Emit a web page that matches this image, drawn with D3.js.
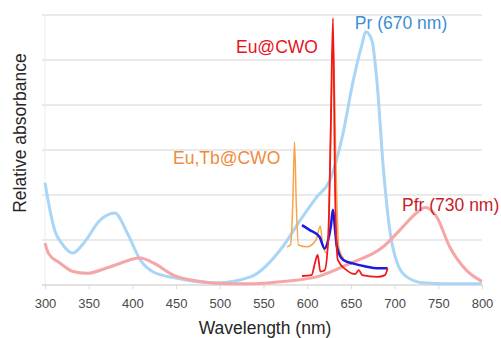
<!DOCTYPE html>
<html>
<head>
<meta charset="utf-8">
<script src="https://cdn.jsdelivr.net/npm/d3@7"></script>
<style>
  body { margin: 0; background: #fff; }
  svg { display: block; font-family: "Liberation Sans", Arial, sans-serif; }
</style>
</head>
<body>
<div id="chart"></div>
<script>
// x ticks
var xTicks = [300, 350, 400, 450, 500, 550, 600, 650, 700, 750, 800]

// Pr (phytochrome red form) absorbance
var prWl  = [300, 305, 311, 319, 332, 345, 363, 380, 394, 409, 424, 451, 497, 535, 572, 592, 611, 626, 641, 652, 663, 667, 674, 680, 687, 695, 703, 714, 732, 760, 800]
var prVal = [2.27, 1.73, 1.22, 0.93, 0.71, 0.95, 1.44, 1.6, 1.16, 0.56, 0.29, 0.15, 0.05, 0.18, 0.85, 1.44, 1.96, 2.33, 3.37, 4.48, 5.37, 5.63, 5.44, 4.48, 2.62, 1.15, 0.49, 0.18, 0.05, 0.03, 0.03]

// Pfr (far red form)
var pfrWl  = [300, 304, 317, 332, 348, 374, 409, 424, 447, 477, 510, 540, 572, 611, 649, 687, 706, 725, 735, 748, 763, 782, 800]
var pfrVal = [0.93, 0.7, 0.49, 0.3, 0.26, 0.4, 0.6, 0.49, 0.22, 0.08, 0.03, 0.03, 0.08, 0.18, 0.48, 0.85, 1.22, 1.6, 1.72, 1.52, 0.85, 0.33, 0.08]

// Eu,Tb@CWO emission (orange)
var euTbWl  = [577, 581, 583.5, 585.5, 587.5, 590, 600, 610, 615, 618, 623, 626, 629.5, 633, 636, 640, 642]
var euTbVal = [0.85, 0.9, 1.8, 3.18, 1.8, 0.89, 0.85, 1.0, 1.31, 0.85, 0.7, 2.6, 5.5, 2.6, 0.85, 0.63, 0.6]

// blue emission (unlabelled)
var blueWl  = [594, 603, 614, 620, 624, 627, 629.5, 632, 634, 641, 652, 667, 680, 692]
var blueVal = [1.33, 1.22, 1.07, 0.81, 1.0, 1.3, 1.67, 1.2, 0.85, 0.56, 0.48, 0.41, 0.37, 0.37]

// Eu@CWO emission (red)
var euWl  = [594, 605, 609, 612, 615, 620, 624, 627, 629.5, 632, 635, 645, 655, 659, 663, 680, 689, 692]
var euVal = [0.2, 0.22, 0.5, 0.67, 0.3, 0.33, 1.0, 3.5, 5.93, 2.0, 0.56, 0.33, 0.24, 0.33, 0.22, 0.18, 0.22, 0.37]

// annotations: text, wavelength, value at baseline
var labelText = ["Pr (670 nm)", "Eu@CWO", "Eu,Tb@CWO", "Pfr (730 nm)"]
var labelWl   = [654.5, 518.5, 446.5, 708.5]
var labelVal  = [5.69, 5.15, 2.69, 1.64]
var labelColor = ["#3b8fd6", "#e8141c", "#f08a3c", "#c8202a"]

var width = 501
var height = 338

var x = d3.scaleLinear().domain([300, 800]).range([45, 482])
var y = d3.scaleLinear().domain([0, 6]).range([285, 15])

var svg = d3.select("#chart")
    .append("svg")
    .attr("width", width)
    .attr("height", height)

// horizontal gridlines
svg.append("g")
    .selectAll("line")
    .data(d3.range(1, 7))
    .enter()
    .append("line")
    .attr("x1", x(300) - 3)
    .attr("x2", x(800))
    .attr("y1", d => y(d))
    .attr("y2", d => y(d))
    .attr("stroke", "#e3e3e3")
    .attr("stroke-width", 1.5)

// left axis line
svg.append("line")
    .attr("x1", x(300)).attr("x2", x(300))
    .attr("y1", y(6)).attr("y2", y(0))
    .attr("stroke", "#ececec")
    .attr("stroke-width", 1)

// bottom axis
var xAxis = svg.append("g")
    .attr("transform", "translate(0," + y(0) + ")")
    .call(d3.axisBottom(x).tickValues(xTicks).tickSize(4).tickPadding(10).tickSizeOuter(0))
xAxis.select(".domain").attr("stroke", "#d9d9d9").attr("stroke-width", 1.5)
    .attr("d", "M" + (x(300) - 3) + ",0H" + x(800))
xAxis.selectAll(".tick line").attr("stroke", "#d9d9d9")
xAxis.selectAll(".tick text")
    .attr("fill", "#4a4a4a")
    .style("font-family", "'Liberation Sans Narrow', 'Arial Narrow', sans-serif")
    .style("font-size", "13px")

// axis titles
svg.append("text")
    .attr("x", 265)
    .attr("y", 334)
    .attr("text-anchor", "middle")
    .attr("fill", "#262626")
    .style("font-size", "17.5px")
    .text("Wavelength (nm)")

svg.append("text")
    .attr("transform", "translate(26,133) rotate(-90)")
    .attr("text-anchor", "middle")
    .attr("fill", "#262626")
    .style("font-size", "17.5px")
    .text("Relative absorbance")

function series(wl, val) {
    return wl.map(function (w, i) { return [w, val[i]] })
}

var line = d3.line()
    .x(d => x(d[0]))
    .y(d => y(d[1]))
    .curve(d3.curveMonotoneX)

var lines = [
    { data: series(prWl, prVal), color: "#a9d5f7", w: 3 },
    { data: series(pfrWl, pfrVal), color: "#f6a6a6", w: 3 },
    { data: series(euTbWl, euTbVal), color: "#f7a54a", w: 1.5 },
    { data: series(blueWl, blueVal), color: "#1a1ae0", w: 2.5 },
    { data: series(euWl, euVal), color: "#f01818", w: 1.8 }
]

svg.selectAll("path.spec")
    .data(lines)
    .enter()
    .append("path")
    .attr("class", "spec")
    .attr("d", d => line(d.data))
    .attr("fill", "none")
    .attr("stroke", d => d.color)
    .attr("stroke-width", d => d.w)
    .attr("stroke-linejoin", "round")

// labels
svg.selectAll("text.lbl")
    .data(labelText)
    .enter()
    .append("text")
    .attr("class", "lbl")
    .attr("x", (d, i) => x(labelWl[i]))
    .attr("y", (d, i) => y(labelVal[i]))
    .attr("fill", (d, i) => labelColor[i])
    .style("font-size", "17.5px")
    .text(d => d)
</script>
</body>
</html>
